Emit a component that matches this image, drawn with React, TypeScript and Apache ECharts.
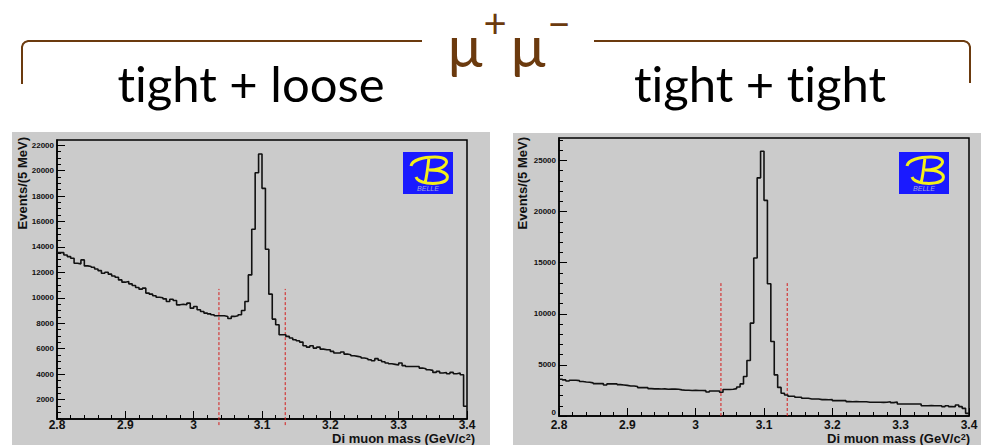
import React, { useEffect, useRef } from 'react';
import * as echarts from 'echarts';

// Histogram binning (5 MeV bins from 2.8 to 3.4 GeV/c^2)
const BIN_START = 2.8;
const BIN_WIDTH = 0.005;
const X_MIN = 2.8;
const X_MAX = 3.4;

// tight + loose: events per bin
const looseCounts = [
  13550, 13550, 13370, 13240, 13110, 12720, 12670, 12980, 12510, 12460,
  12400, 12270, 12140, 11930, 12010, 11860, 11720, 11620, 11410, 11230,
  11280, 11100, 10970, 10810, 10680, 10760, 10370, 10290, 10160, 10050,
  10000, 9920, 9710, 9890, 9790, 9450, 9500, 9450, 9580, 9190,
  9320, 9060, 8930, 8800, 8740, 8670, 8590, 8590, 8590, 8540,
  8380, 8540, 8590, 8670, 9010, 9710, 11800, 15390, 19830, 21300,
  18600, 13820, 10290, 8330, 7880, 7100, 7100, 6970, 6840, 6710,
  6630, 6520, 6240, 6130, 6240, 6050, 6130, 5970, 5920, 5920,
  5790, 5660, 5660, 5740, 5580, 5530, 5450, 5400, 5350, 5270,
  5220, 5140, 5060, 5220, 5090, 4980, 4880, 4820, 4770, 4720,
  4880, 4670, 4610, 4610, 4610, 4610, 4480, 4430, 4350, 4300,
  4140, 4220, 4090, 4140, 4040, 4140, 4040, 4090, 3960, 1480,
];

// tight + tight: events per bin
const tightCounts = [
  3600, 3530, 3430, 3500, 3500, 3460, 3370, 3330, 3300, 3240,
  3170, 3170, 3170, 3040, 3140, 3140, 3140, 3070, 3040, 3000,
  2940, 2940, 2880, 2780, 2780, 2780, 2680, 2650, 2650, 2640,
  2650, 2620, 2640, 2630, 2610, 2560, 2520, 2520, 2500, 2520,
  2500, 2490, 2480, 2350, 2450, 2450, 2440, 2320, 2590, 2600,
  2620, 2680, 2840, 3140, 3860, 5430, 9090, 15460, 23300, 25900,
  21100, 12940, 7290, 4020, 2800, 2220, 2060, 1930, 1930, 1830,
  1830, 1730, 1730, 1670, 1670, 1660, 1600, 1600, 1590, 1600,
  1500, 1500, 1510, 1500, 1410, 1400, 1410, 1400, 1400, 1390,
  1340, 1340, 1350, 1340, 1330, 1340, 1400, 1310, 1370, 1180,
  1180, 1170, 1180, 1180, 1170, 1180, 1010, 1010, 1020, 1010,
  1010, 1010, 920, 1010, 920, 910, 1080, 920, 750, 260,
];

// axis ranges and tick labels
const looseYRange = [480, 22400];
const tightYRange = [0, 27200];
const looseYTicks = [2000, 4000, 6000, 8000, 10000, 12000, 14000, 16000, 18000, 20000, 22000];
const tightYTicks = [0, 5000, 10000, 15000, 20000, 25000];
const looseYMinorStep = 500;
const tightYMinorStep = 1000;

// mass window cuts (dashed lines)
const cutLow = 3.037;
const cutHigh = 3.134;
const looseCutTop = 10700;
const tightCutTop = 13000;

const FONT = '"Liberation Sans", Arial, sans-serif';
const SLIDE_FONT = 'Lato, "Open Sans", sans-serif';
const BROWN = '#6b3a0e';
const PANEL = '#cbcbcb';

function minorTicks(range: number[], step: number, majors: number[]) {
  const out: number[] = [];
  const start = Math.ceil(range[0] / step) * step;
  for (let v = start; v <= range[1]; v += step) {
    if (!majors.includes(v)) out.push(v);
  }
  return out;
}

function toSteps(counts: number[]) {
  const pts: number[][] = counts.map((c, i) => [+(BIN_START + i * BIN_WIDTH).toFixed(4), c]);
  pts.push([X_MAX, counts[counts.length - 1]]);
  return pts;
}

function xAxisFor(gridIndex: number, margin: number) {
  return {
    gridIndex,
    type: 'value',
    min: X_MIN,
    max: X_MAX,
    interval: 0.1,
    axisLine: { onZero: false, lineStyle: { color: '#000', width: 1.5 } },
    axisTick: { inside: true, length: 8, lineStyle: { color: '#000', width: 1 } },
    minorTick: { show: true, splitNumber: 5, length: 4, lineStyle: { color: '#000', width: 1 } },
    splitLine: { show: false },
    minorSplitLine: { show: false },
    axisLabel: {
      color: '#111',
      fontFamily: FONT,
      fontWeight: 'bold',
      fontSize: 12,
      lineHeight: 12,
      margin,
      showMinLabel: true,
      showMaxLabel: true,
      formatter: (v: number) => String(Number(v.toFixed(1))),
    },
  };
}

function yAxesFor(gridIndex: number, range: number[], majors: number[], minorStep: number, minLabelUp: boolean) {
  const label: any = {
    customValues: majors,
    color: '#111',
    fontFamily: FONT,
    fontWeight: 'bold',
    fontSize: 8,
    margin: 3,
    formatter: (v: number) => String(Math.round(v)),
  };
  if (minLabelUp) label.verticalAlignMinLabel = 'bottom';
  return [
    {
      gridIndex,
      type: 'value',
      position: 'left',
      min: range[0],
      max: range[1],
      axisLine: { show: true, onZero: false, lineStyle: { color: '#000', width: 1.5 } },
      axisTick: { show: true, inside: true, length: 8, customValues: majors, lineStyle: { color: '#000', width: 1 } },
      axisLabel: label,
      splitLine: { show: false },
    },
    {
      gridIndex,
      type: 'value',
      position: 'left',
      min: range[0],
      max: range[1],
      axisLine: { show: false, onZero: false },
      axisTick: {
        show: true,
        inside: true,
        length: 4,
        customValues: minorTicks(range, minorStep, majors),
        lineStyle: { color: '#000', width: 1 },
      },
      axisLabel: { show: false },
      splitLine: { show: false },
    },
  ];
}

function histSeries(xi: number, yi: number, counts: number[]) {
  return {
    type: 'line',
    xAxisIndex: xi,
    yAxisIndex: yi,
    data: toSteps(counts),
    step: 'end',
    symbol: 'none',
    silent: true,
    z: 4,
    lineStyle: { color: '#111', width: 1.6 },
  };
}

function cutSeries(xi: number, yi: number, x: number, top: number) {
  return {
    type: 'line',
    xAxisIndex: xi,
    yAxisIndex: yi,
    data: [[x, 0], [x, top]],
    clip: false,
    symbol: 'none',
    silent: true,
    z: 3,
    lineStyle: { color: '#d41c1c', width: 1, type: [3, 2] },
  };
}

function belleLogo(x: number, y: number) {
  return [
    { type: 'rect', shape: { x, y, width: 50, height: 42 }, style: { fill: '#1a1aff' }, z: 5 },
    {
      type: 'belleB',
      x,
      y,
      style: { stroke: '#f4f01a', fill: null, lineWidth: 3 },
      z: 6,
    },
    {
      type: 'text',
      x: x + 25,
      y: y + 36,
      style: {
        text: 'BELLE',
        fontSize: 7,
        fontStyle: 'italic',
        fontFamily: FONT,
        fill: '#a8a8dc',
        align: 'center',
        verticalAlign: 'middle',
      },
      z: 6,
    },
  ];
}

function xTitle(xRight: number) {
  return {
    type: 'text',
    x: xRight,
    y: 444,
    style: {
      text: '{a|Di muon mass (GeV/c}{s|2}{a|)}',
      align: 'right',
      verticalAlign: 'bottom',
      rich: {
        a: { fontSize: 13, fontWeight: 'bold', fontFamily: FONT, fill: '#111', lineHeight: 11 },
        s: { fontSize: 9, fontWeight: 'bold', fontFamily: FONT, fill: '#111', padding: [0, 0, 4, 0], lineHeight: 8 },
      },
    },
    z: 6,
  };
}

function yTitle(x: number) {
  return {
    type: 'text',
    x,
    y: 137,
    rotation: Math.PI / 2,
    style: {
      text: 'Events/(5 MeV)',
      align: 'right',
      verticalAlign: 'middle',
      fontSize: 13,
      fontWeight: 'bold',
      fontFamily: FONT,
      fill: '#111',
    },
    z: 6,
  };
}

let registered = false;
function registerShapes() {
  if (registered) return;
  registered = true;
  const d =
    'M 8 14 C 9 8 20 5 32 5 C 42 5 46 9 42 13 C 39 17 31 18 26 18 ' +
    'M 26 18 C 40 18 46 22 44 27 C 42 31 32 32 24 31 C 18 30 14 28 13 25 ' +
    'M 26 5 C 25 14 24 24 22 31';
  echarts.graphic.registerShape('belleB', echarts.graphic.extendPath(d, {}) as any);
}

export default function App() {
  const ref = useRef<HTMLDivElement>(null);

  useEffect(() => {
    if (!ref.current) return;
    registerShapes();
    const chart = echarts.init(ref.current, null, { renderer: 'svg' });

    const [ly0, ly1] = yAxesFor(0, looseYRange, looseYTicks, looseYMinorStep, false);
    const [ty0, ty1] = yAxesFor(1, tightYRange, tightYTicks, tightYMinorStep, true);

    const slideText = (text: string, x: number, y: number, size: number, fill: string, lineHeight?: number) => ({
      type: 'text',
      x,
      y,
      style: {
        text,
        fontSize: size,
        fontFamily: SLIDE_FONT,
        fill,
        align: 'center',
        verticalAlign: 'middle',
        lineHeight: lineHeight ?? size,
      },
    });

    const option: any = {
      animation: false,
      backgroundColor: '#ffffff',
      grid: [
        { left: 57, top: 140, width: 410, height: 279, show: true, borderColor: '#000', borderWidth: 1.5, backgroundColor: 'transparent' },
        { left: 559, top: 138, width: 410, height: 278, show: true, borderColor: '#000', borderWidth: 1.5, backgroundColor: 'transparent' },
      ],
      xAxis: [xAxisFor(0, 0), xAxisFor(1, 3)],
      yAxis: [ly0, ly1, ty0, ty1],
      series: [
        histSeries(0, 0, looseCounts),
        cutSeries(0, 0, cutLow, looseCutTop),
        cutSeries(0, 0, cutHigh, looseCutTop),
        histSeries(1, 2, tightCounts),
        cutSeries(1, 2, cutLow, tightCutTop),
        cutSeries(1, 2, cutHigh, tightCutTop),
      ],
      graphic: {
        elements: [
          { type: 'rect', shape: { x: 12, y: 132, width: 478, height: 313 }, style: { fill: PANEL }, z: -10 },
          { type: 'rect', shape: { x: 513, y: 133, width: 468, height: 312 }, style: { fill: PANEL }, z: -10 },
          {
            type: 'polyline',
            shape: { points: [[22, 84], [22, 47], [23, 44], [25, 42], [28, 41], [422, 41]] },
            style: { stroke: BROWN, lineWidth: 2, fill: null },
          },
          {
            type: 'polyline',
            shape: { points: [[594, 41], [964, 41], [967, 42], [969, 44], [970, 47], [970, 83]] },
            style: { stroke: BROWN, lineWidth: 2, fill: null },
          },
          slideText('μ', 465, 44, 58, BROWN, 50),
          slideText('+', 495, 23, 40, BROWN, 30),
          slideText('μ', 528, 44, 58, BROWN, 50),
          slideText('−', 559, 23, 40, BROWN, 30),
          slideText('tight + loose', 251, 83, 49, '#000', 46),
          slideText('tight + tight', 760, 83, 49, '#000', 46),
          ...belleLogo(403, 152),
          ...belleLogo(899, 152),
          xTitle(475),
          xTitle(970),
          yTitle(22),
          yTitle(522),
        ],
      },
    };

    chart.setOption(option);
    return () => chart.dispose();
  }, []);

  return (
    <>
      <style>{'.hist-chart text { font-variant-ligatures: none; font-feature-settings: "liga" 0; }'}</style>
      <div className="hist-chart" ref={ref} style={{ position: 'absolute', left: 0, top: 0, width: 988, height: 445 }} />
    </>
  );
}
